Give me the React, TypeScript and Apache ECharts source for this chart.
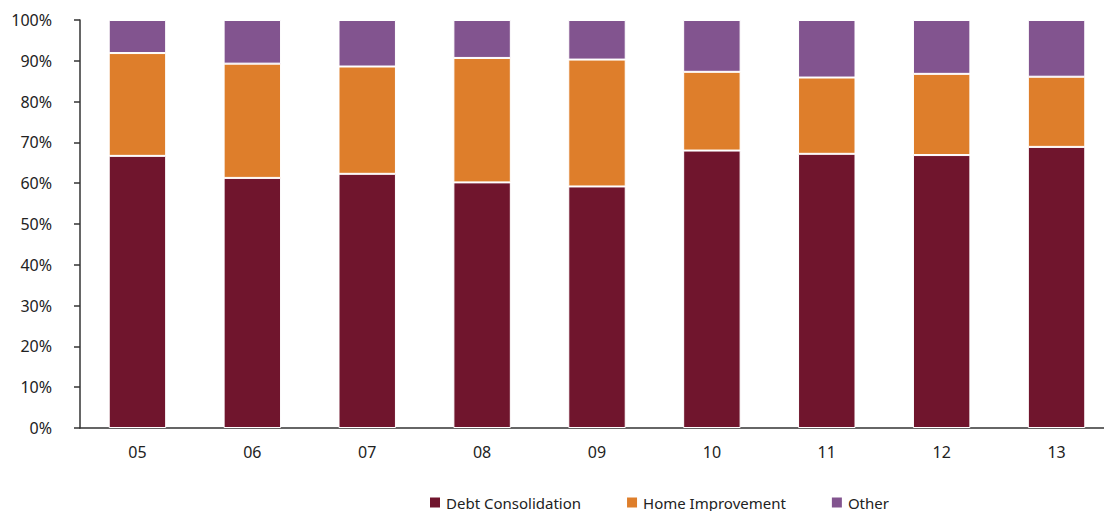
import React, { useEffect, useRef } from "react";
import * as echarts from "echarts";

const categories = ["05", "06", "07", "08", "09", "10", "11", "12", "13"];
const debtConsolidation = [66.7, 61.3, 62.3, 60.2, 59.2, 68.0, 67.2, 66.9, 68.9];
const homeImprovement = [25.2, 28.0, 26.3, 30.5, 31.1, 19.3, 18.7, 19.9, 17.2];
const other = [8.1, 10.7, 11.4, 9.3, 9.7, 12.7, 14.1, 13.2, 13.9];

const FONT = "'Noto Sans', sans-serif";

export default function App() {
  const ref = useRef<HTMLDivElement>(null);
  useEffect(() => {
    if (!ref.current) return;
    const chart = echarts.init(ref.current, null, { renderer: "svg" });
    const mk = (name: string, data: number[], color: string) => ({
      name,
      type: "bar",
      stack: "total",
      data,
      barWidth: "50%",
      itemStyle: { color, borderColor: "#ffffff", borderWidth: 1 },
    });
    chart.setOption({
      animation: false,
      textStyle: { fontFamily: FONT },
      grid: { left: 80, right: 0, top: 20, bottom: 83, containLabel: false },
      legend: {
        left: 423,
        top: 490,
        itemWidth: 12,
        itemHeight: 12,
        itemGap: 44,
        icon: "rect",
        textStyle: { fontFamily: FONT, fontSize: 15, color: "#222" },
        data: ["Debt Consolidation", "Home Improvement", "Other"],
      },
      xAxis: {
        type: "category",
        data: categories,
        axisLine: { lineStyle: { color: "#333", width: 1.5 } },
        axisTick: { show: false },
        axisLabel: { fontFamily: FONT, fontSize: 16, color: "#222", margin: 16 },
      },
      yAxis: {
        type: "value",
        min: 0,
        max: 100,
        interval: 10,
        splitLine: { show: false },
        axisLine: { show: true, lineStyle: { color: "#333", width: 1.5 } },
        axisTick: { show: true, length: 6, lineStyle: { color: "#333", width: 1.5 } },
        axisLabel: {
          fontFamily: FONT,
          fontSize: 16,
          color: "#222",
          margin: 28,
          formatter: (v: number) => `${v}%`,
        },
      },
      series: [
        mk("Debt Consolidation", debtConsolidation, "#70152D"),
        mk("Home Improvement", homeImprovement, "#DE7E2B"),
        mk("Other", other, "#82548F"),
      ],
    });
    return () => chart.dispose();
  }, []);
  return (
    <div
      style={{
        position: "fixed",
        left: 0,
        top: 0,
        width: 1104,
        height: 511,
        overflow: "hidden",
        background: "#fff",
      }}
    >
      <div ref={ref} style={{ width: 1114, height: 511 }} />
    </div>
  );
}
